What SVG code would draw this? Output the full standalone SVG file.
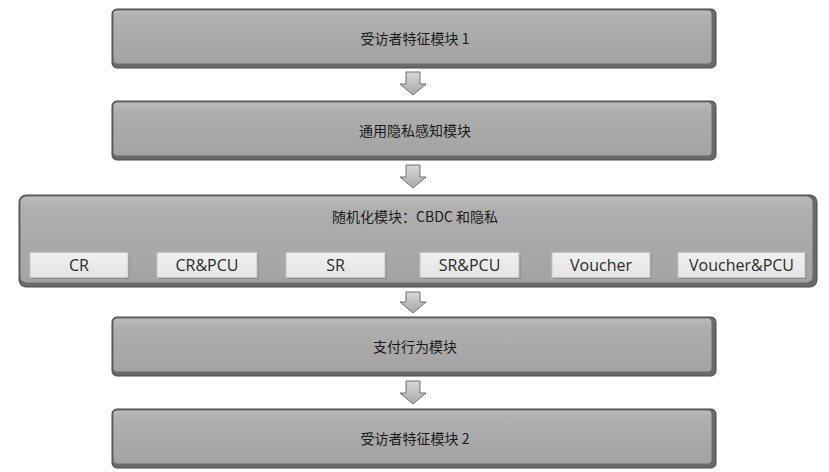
<svg xmlns="http://www.w3.org/2000/svg" width="829" height="472" viewBox="0 0 829 472">
<defs>
<linearGradient id="g" x1="0" y1="0" x2="0" y2="1">
<stop offset="0" stop-color="#bbbbbb"/>
<stop offset="0.15" stop-color="#afafaf"/>
<stop offset="1" stop-color="#a3a3a3"/>
</linearGradient>
<linearGradient id="ag" x1="0" y1="0" x2="0" y2="1">
<stop offset="0" stop-color="#d8d8d8"/>
<stop offset="1" stop-color="#a8a8a8"/>
</linearGradient>
<linearGradient id="sg" x1="0" y1="0" x2="0" y2="1">
<stop offset="0" stop-color="#f0f0f0"/>
<stop offset="1" stop-color="#e4e4e4"/>
</linearGradient>
</defs>
<style>
.edge{fill:#6a6a6a;stroke:#4a4a4a;stroke-width:1}
.face{fill:url(#g)}
.t{font-family:"Noto Sans CJK SC","Noto Sans",sans-serif;font-size:14px;fill:#1a1a1a;text-anchor:middle}
.st{font-family:"Open Sans","Noto Sans",sans-serif;font-size:16px;fill:#2a2a2a;text-anchor:middle}
.sub{fill:url(#sg);stroke:#c4c4c4;stroke-width:1}
.sh{fill:#8a8a8a}
.arr{fill:url(#ag);stroke:#707070;stroke-width:1}
</style>
<rect width="829" height="472" fill="#ffffff"/>
<g id="n1">
<rect class="edge" x="112" y="9" width="604" height="59" rx="5"/>
<rect class="face" x="113.5" y="10.5" width="598" height="53" rx="4"/>
<text class="t" x="415" y="44">受访者特征模块 1</text>
</g>
<g id="n2">
<rect class="edge" x="112" y="101" width="604" height="59" rx="5"/>
<rect class="face" x="113.5" y="102.5" width="598" height="53" rx="4"/>
<text class="t" x="415" y="136">通用隐私感知模块</text>
</g>
<g id="n3">
<rect class="edge" x="19" y="195" width="798" height="92" rx="7"/>
<rect class="face" x="20.5" y="196.5" width="792" height="86" rx="6"/>
<text class="t" x="415" y="222">随机化模块：CBDC 和隐私</text>
<g id="n3a"><rect class="sh" x="31.5" y="254" width="98" height="25"/><rect class="sub" x="30" y="252.5" width="98" height="25"/><text class="st" x="79" y="271">CR</text></g>
<g id="n3b"><rect class="sh" x="158.5" y="254" width="100" height="25"/><rect class="sub" x="157" y="252.5" width="100" height="25"/><text class="st" x="207" y="271">CR&amp;PCU</text></g>
<g id="n3c"><rect class="sh" x="287.5" y="254" width="99" height="25"/><rect class="sub" x="286" y="252.5" width="99" height="25"/><text class="st" x="335.5" y="271">SR</text></g>
<g id="n3d"><rect class="sh" x="421.5" y="254" width="99" height="25"/><rect class="sub" x="420" y="252.5" width="99" height="25"/><text class="st" x="469.5" y="271">SR&amp;PCU</text></g>
<g id="n3e"><rect class="sh" x="553.5" y="254" width="98" height="25"/><rect class="sub" x="552" y="252.5" width="98" height="25"/><text class="st" x="601" y="271">Voucher</text></g>
<g id="n3f"><rect class="sh" x="679.5" y="254" width="127" height="25"/><rect class="sub" x="678" y="252.5" width="127" height="25"/><text class="st" x="741.5" y="271">Voucher&amp;PCU</text></g>
</g>
<g id="n4">
<rect class="edge" x="112" y="317" width="604" height="59" rx="5"/>
<rect class="face" x="113.5" y="318.5" width="598" height="53" rx="4"/>
<text class="t" x="415" y="352">支付行为模块</text>
</g>
<g id="n5">
<rect class="edge" x="112" y="409" width="604" height="59" rx="5"/>
<rect class="face" x="113.5" y="410.5" width="598" height="53" rx="4"/>
<text class="t" x="415" y="444">受访者特征模块 2</text>
</g>
<g id="connectors">
<path class="arr" d="M406 72 H420 V84 H426 L413 95 L400 84 H406 Z"/>
<path class="arr" d="M406 165 H420 V177 H426 L413 188 L400 177 H406 Z"/>
<path class="arr" d="M406 292 H420 V302 H426 L413 313 L400 302 H406 Z"/>
<path class="arr" d="M406 381 H420 V393 H426 L413 404 L400 393 H406 Z"/>
</g>
</svg>
